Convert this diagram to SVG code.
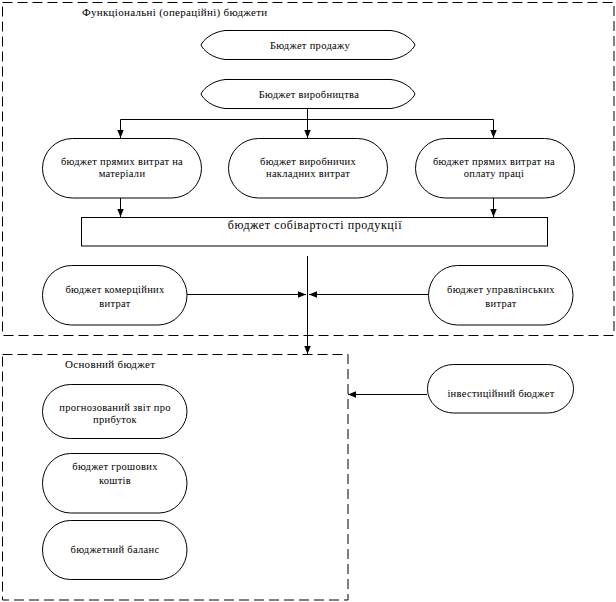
<svg xmlns="http://www.w3.org/2000/svg" width="616" height="602" viewBox="0 0 616 602" font-family="Liberation Serif, Times New Roman, serif">
<style>
.frame{fill:none;stroke:#000;stroke-width:1;stroke-dasharray:10,5}
.shape{fill:#fff;stroke:#000;stroke-width:1}
.ln{fill:none;stroke:#000;stroke-width:1}
.t{font-family:'Liberation Serif',serif;font-size:10.5px;fill:#000;text-anchor:middle;letter-spacing:0.3px}
.title{font-family:'Liberation Serif',serif;font-size:11px;fill:#000;text-anchor:start;letter-spacing:0.3px}
</style>
<defs>
<marker id="ah" viewBox="0 0 10 10" refX="10" refY="5" markerWidth="8" markerHeight="8" markerUnits="userSpaceOnUse" orient="auto">
<path d="M0,1 L10,5 L0,9 Z" fill="#000"/>
</marker>
</defs>
<rect width="616" height="602" fill="#fff"/>
<g id="frame-functional">
<rect class="frame" x="2.5" y="2.5" width="611.5" height="333"/>
<text class="title" x="82" y="16">Функціональні (операційні) бюджети</text>
</g>
<g id="frame-main">
<rect class="frame" x="2.5" y="354.5" width="345.5" height="245.5"/>
<text class="title" x="65" y="368">Основний бюджет</text>
</g>
<g id="connectors">
<line class="ln" x1="307.5" y1="109" x2="307.5" y2="119.5"/>
<line class="ln" x1="120.5" y1="119.5" x2="493.5" y2="119.5"/>
<line class="ln" x1="120.5" y1="119.5" x2="120.5" y2="138" marker-end="url(#ah)"/>
<line class="ln" x1="307.5" y1="119.5" x2="307.5" y2="138" marker-end="url(#ah)"/>
<line class="ln" x1="493.5" y1="119.5" x2="493.5" y2="138" marker-end="url(#ah)"/>
<line class="ln" x1="120.5" y1="198" x2="120.5" y2="217" marker-end="url(#ah)"/>
<line class="ln" x1="493.5" y1="198" x2="493.5" y2="217" marker-end="url(#ah)"/>
<line class="ln" x1="307.5" y1="256" x2="307.5" y2="354" marker-end="url(#ah)"/>
<line class="ln" x1="187" y1="294.5" x2="306" y2="294.5" marker-end="url(#ah)"/>
<line class="ln" x1="428" y1="294.5" x2="309" y2="294.5" marker-end="url(#ah)"/>
<line class="ln" x1="427" y1="394.5" x2="348" y2="394.5" marker-end="url(#ah)"/>
</g>
<g id="node-sales">
<path class="shape" d="M225,30.5 H391 C404,32 413,40 415,45 C413,50 404,58 391,59.5 H225 C212,58 203,50 201,45 C203,40 212,32 225,30.5 Z"/>
<text class="t" x="310" y="48.5">Бюджет продажу</text>
</g>
<g id="node-production">
<path class="shape" d="M225,79.5 H391 C404,81 413,89 415,94 C413,99 404,107 391,108.5 H225 C212,107 203,99 201,94 C203,89 212,81 225,79.5 Z"/>
<text class="t" x="309" y="98">Бюджет виробництва</text>
</g>
<g id="node-materials">
<rect class="shape" x="42.5" y="138.5" width="159" height="59.5" rx="30" ry="30"/>
<text class="t" x="122" y="165">бюджет прямих витрат на</text>
<text class="t" x="122" y="177">матеріали</text>
</g>
<g id="node-overhead">
<rect class="shape" x="228.5" y="138.5" width="159" height="59.5" rx="30" ry="30"/>
<text class="t" x="308" y="165">бюджет виробничих</text>
<text class="t" x="308" y="177">накладних витрат</text>
</g>
<g id="node-labor">
<rect class="shape" x="415.5" y="138.5" width="159" height="59.5" rx="30" ry="30"/>
<text class="t" x="494" y="165">бюджет прямих витрат на</text>
<text class="t" x="494" y="177">оплату праці</text>
</g>
<g id="node-cost">
<rect class="shape" x="81.5" y="217.5" width="466" height="28.5"/>
<text class="t" x="315" y="229" style="font-size:12px;letter-spacing:0.6px">бюджет собівартості продукції</text>
</g>
<g id="node-commercial">
<rect class="shape" x="42.5" y="265.5" width="144.5" height="59.5" rx="29" ry="30"/>
<text class="t" x="115" y="293">бюджет комерційних</text>
<text class="t" x="115" y="307">витрат</text>
</g>
<g id="node-admin">
<rect class="shape" x="428.5" y="265.5" width="144.5" height="59.5" rx="29" ry="30"/>
<text class="t" x="501" y="293">бюджет управлінських</text>
<text class="t" x="501" y="307">витрат</text>
</g>
<g id="node-investment">
<rect class="shape" x="427.5" y="364.5" width="146" height="48.5" rx="26" ry="24"/>
<text class="t" x="501" y="397">інвестиційний бюджет</text>
</g>
<g id="node-profit">
<rect class="shape" x="42.5" y="384.5" width="144.5" height="54" rx="28" ry="27"/>
<text class="t" x="115" y="411">прогнозований звіт про</text>
<text class="t" x="115" y="423">прибуток</text>
</g>
<g id="node-cash">
<rect class="shape" x="42.5" y="453.5" width="144.5" height="59.5" rx="28" ry="30"/>
<text class="t" x="115" y="470">бюджет грошових</text>
<text class="t" x="115" y="484">коштів</text>
</g>
<g id="node-balance">
<rect class="shape" x="42.5" y="520.5" width="144.5" height="59" rx="28" ry="30"/>
<text class="t" x="115" y="553">бюджетний баланс</text>
</g>
</svg>
